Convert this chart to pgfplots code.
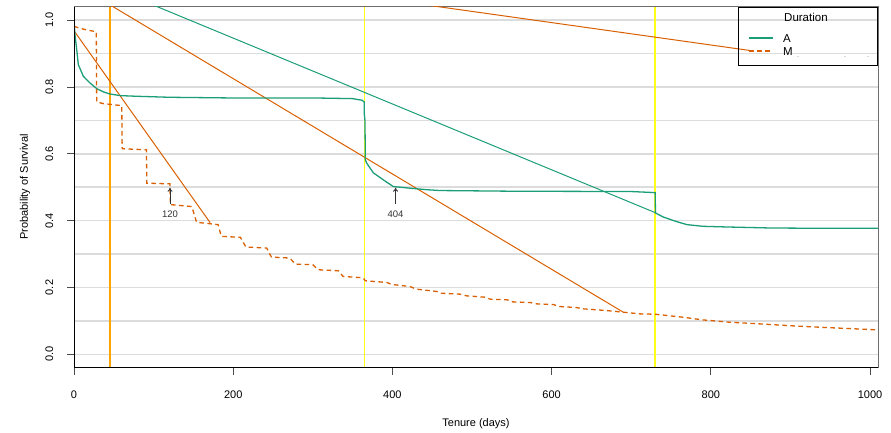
\documentclass[border=0pt]{standalone}
\usepackage{fontspec}
\setmainfont{Liberation Sans}
\usepackage{pgfplots}
\pgfplotsset{compat=1.18}
\usetikzlibrary{arrows.meta}
\definecolor{dkgreen}{HTML}{1B9E77}
\definecolor{dkorange}{HTML}{D95F02}
\definecolor{vorange}{HTML}{FFA500}
\definecolor{vyellow}{HTML}{FFFF1A}
\definecolor{gridgray}{HTML}{DCDCDC}
\definecolor{boxgray}{HTML}{6E6E6E}

\begin{document}
\begin{tikzpicture}
\begin{axis}[
  at={(74pt,65.3pt)}, anchor=south west,
  scale only axis,
  width=804pt, height=361pt,
  xmin=0, xmax=1010, ymin=-0.04, ymax=1.04,
  xtick={0,200,400,600,800,1000},
  xticklabels={0,200,400,600,800,1000},
  ytick={0,0.2,0.4,0.6,0.8,1},
  yticklabels={0.0,0.2,0.4,0.6,0.8,1.0},
  minor ytick={0.1,0.3,0.5,0.7,0.9},
  ymajorgrids, yminorgrids,
  major grid style={gridgray, line width=1.5pt},
  minor grid style={gridgray, line width=1.5pt},
  minor tick length=0pt,
  tick align=outside,
  xtick pos=left, ytick pos=left,
  major tick length=7pt,
  tick style={draw=black!70, line width=0.8pt},
  axis line style={draw=boxgray, line width=0.8pt},
  tick label style={font=\fontsize{11}{13}\selectfont},
  xticklabel style={anchor=base, inner sep=0pt, yshift=-23.8pt},
  yticklabel style={xshift=-14pt, rotate=90, anchor=base, inner sep=0pt},
  /pgf/number format/assume math mode=true,
]

% reference lines
\addplot[vorange, line width=1.5pt] coordinates {(45,-0.04) (45,1.04)};
\addplot[vyellow, line width=1.6pt] coordinates {(365,-0.04) (365,1.04)};
\addplot[vyellow, line width=1.6pt] coordinates {(730,-0.04) (730,1.04)};

% straight segments
\addplot[dkorange, line width=1pt] coordinates {(0,0.968) (171,0.394)};
\addplot[dkorange, line width=1pt] coordinates {(0,1.110) (690,0.126)};
\addplot[dkorange, line width=1pt] coordinates {(400,1.0594) (849,0.909)};
\addplot[dkgreen, line width=1pt] coordinates {(0,1.143) (730,0.424)};

% A
\addplot[dkgreen, line width=1.3pt] coordinates {
(0,1.0) (1.2,0.957) (3.4,0.912) (5.4,0.867) (11.7,0.832) (20,0.812)
(28.5,0.795) (37,0.785) (45,0.779) (58,0.774) (79,0.772) (120,0.769)
(196,0.767) (300,0.767) (350,0.765) (362,0.760) (364.5,0.755)
(364.5,0.723) (365.5,0.70) (366,0.582) (367.7,0.572) (376,0.543)
(388.6,0.522) (401,0.502) (418,0.498) (443,0.4925) (460,0.490)
(550,0.488) (700,0.487) (728,0.484) (730,0.484) (730.5,0.423)
(740,0.411) (757,0.397) (770,0.388) (790,0.383) (820,0.381)
(874,0.378) (937,0.377) (1010,0.377)
};

% M
\addplot[dkorange, line width=1.3pt, dash pattern=on 4.5pt off 3.5pt] coordinates {
(0,0.981) (13,0.972) (28,0.965) (28.5,0.755) (37,0.750) (60,0.744)
(60.5,0.615) (91,0.612) (91.5,0.512) (120.5,0.510) (121,0.448)
(148,0.442) (154,0.395) (181,0.388) (185,0.353) (209,0.350)
(216,0.321) (242,0.318) (248,0.291) (271,0.288) (278,0.270)
(300,0.268) (307,0.253) (332,0.250) (338,0.233) (363,0.229)
(366,0.220) (393,0.215) (399,0.209) (422,0.203) (430,0.195)
(456,0.188) (460,0.183) (485,0.180) (493,0.175) (516,0.171)
(523,0.165) (544,0.163) (551,0.157) (573,0.155) (581,0.151)
(602,0.149) (610,0.143) (631,0.140) (640,0.136) (669,0.131)
(690,0.126) (711,0.121) (730,0.120) (765,0.111) (790,0.103)
(824,0.096) (862,0.091) (904,0.085) (946,0.080) (975,0.077)
(1010,0.073)
};

% median annotations
\draw[-{To[length=4pt,width=5pt]}, black!80, line width=0.9pt] (axis cs:120.6,0.45) -- (axis cs:120.6,0.4985);
\draw[-{To[length=4pt,width=5pt]}, black!80, line width=0.9pt] (axis cs:404,0.45) -- (axis cs:404,0.4985);
\node[font=\fontsize{9.5}{11}\selectfont, text=black!80] at (axis cs:120.6,0.418) {120};
\node[font=\fontsize{9.5}{11}\selectfont, text=black!80] at (axis cs:404,0.418) {404};

% black axis lines left and bottom
\draw[black, line width=0.8pt] (rel axis cs:0,1) -- (rel axis cs:0,0) -- (rel axis cs:1,0);
\end{axis}

% legend
\draw[black, line width=0.8pt] (738pt,426pt) rectangle (877pt,368pt);
\node[anchor=base west, inner sep=0pt, font=\fontsize{11.5}{13}\selectfont] at (784pt,411.9pt) {Duration};
\draw[dkgreen, line width=1.3pt] (749pt,395pt) -- (773pt,395pt);
\draw[dkorange, line width=1.3pt, dash pattern=on 4.5pt off 3.5pt] (749pt,382pt) -- (773pt,382pt);
\node[anchor=base west, inner sep=0pt, font=\fontsize{11.5}{13}\selectfont] at (783pt,390.9pt) {A};
\node[anchor=base west, inner sep=0pt, font=\fontsize{11.5}{13}\selectfont] at (783pt,377.9pt) {M};
\node[inner sep=0pt, font=\fontsize{7}{8}\selectfont, text=black!60] at (798pt,376pt) {.};
\node[inner sep=0pt, font=\fontsize{7}{8}\selectfont, text=black!60] at (845pt,376pt) {.};
\node[inner sep=0pt, font=\fontsize{7}{8}\selectfont, text=black!60] at (868pt,376pt) {.};

% axis titles
\node[anchor=base, inner sep=0pt, font=\fontsize{11}{13}\selectfont] at (476pt,6pt) {Tenure (days)};
\node[rotate=90, anchor=base, inner sep=0pt, font=\fontsize{11}{13}\selectfont] at (28pt,246pt) {Probability of Survival};

\pgfresetboundingbox
\path (0pt,0pt) rectangle (891pt,433pt);
\end{tikzpicture}
\end{document}
